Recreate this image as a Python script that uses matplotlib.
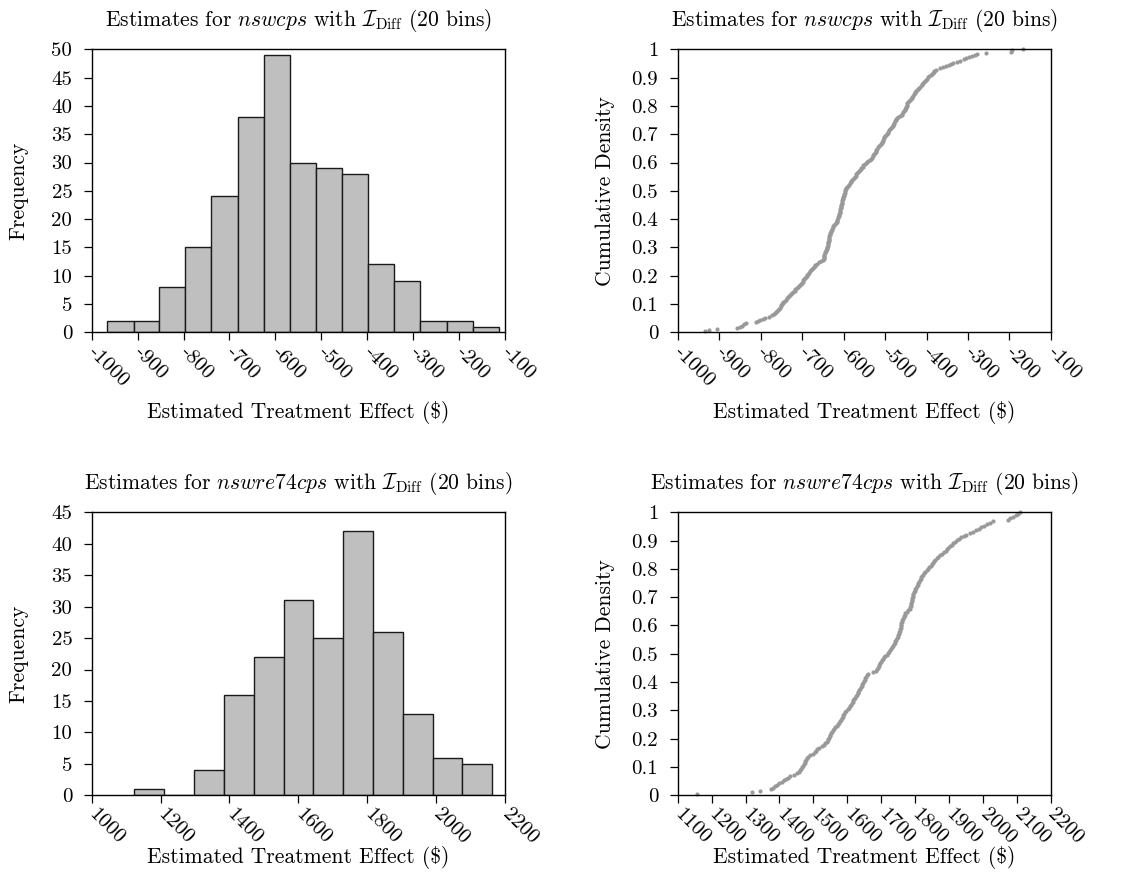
import numpy as np
import matplotlib
matplotlib.use("Agg")
import matplotlib.pyplot as plt
from matplotlib.ticker import FuncFormatter

# Computer Modern look for text and math
plt.rcParams['font.family'] = 'serif'
plt.rcParams['font.serif'] = ['cmr10']
plt.rcParams['mathtext.fontset'] = 'cm'
plt.rcParams['axes.unicode_minus'] = False

# nswcps: histogram bins (edges) and counts
nswcps_edges = [-965.9, -908.6, -852.7, -796.1, -739.4, -682.1, -625.5, -568.2,
                -511.5, -454.2, -397.6, -341.0, -284.4, -227.0, -170.4, -113.8]
nswcps_counts = [2, 2, 8, 15, 24, 38, 49, 30, 29, 28, 12, 9, 2, 2, 1]

# nswre74cps: histogram bins (edges) and counts
nswre74cps_edges = [1123.9, 1211.0, 1298.0, 1384.0, 1470.0, 1557.0, 1643.5,
                    1730.6, 1817.0, 1903.0, 1990.0, 2076.0, 2163.0]
nswre74cps_counts = [1, 0, 4, 16, 22, 31, 25, 42, 26, 13, 6, 5]

# sorted treatment effect estimates behind the cumulative plots
nswcps_estimates = [
    -934, -924, -906, -858, -850, -845, -840, -835, -810, -806,
    -801, -795, -790, -781, -773, -768, -765, -762, -760, -758,
    -756, -754, -752, -750, -748, -746.5, -745, -742, -739, -736,
    -733, -731, -729, -726, -724, -721, -718, -716, -713, -710,
    -708, -705, -703, -701, -699, -697, -695, -693, -691, -689,
    -687, -685, -683, -681, -679, -677, -674, -672, -670, -668,
    -665, -660, -655, -650, -648, -647.5, -647, -646.5, -646, -645,
    -644, -643, -642, -641, -640, -639, -638.5, -638, -637, -636.5,
    -636, -635.5, -635, -634.5, -634, -633.5, -633, -632, -631, -630,
    -628, -627, -626, -625, -623, -621, -619, -617, -616, -615,
    -614, -613, -612, -611, -610, -609, -608.5, -608, -607.5, -607,
    -606.5, -606, -605.5, -605, -604.5, -604, -603, -602.5, -602, -601,
    -600, -599, -598, -597, -596, -595.5, -595, -594, -592, -590,
    -588, -585, -583, -581, -579, -577, -575, -573, -571, -569,
    -567, -565, -563, -561, -559, -557, -554, -552, -549, -546,
    -543, -540, -537, -534, -532, -530, -528, -526, -524, -523,
    -522, -521, -520, -518, -515, -512, -510, -508, -507, -505.5,
    -504, -503, -501.5, -500, -498, -496, -494, -492, -490, -488,
    -486, -484, -482, -480, -479, -477.5, -476, -474.5, -473, -472,
    -468, -464, -460, -458, -456, -454, -452, -451, -450, -449,
    -448, -447, -446, -444, -442, -440, -438, -436, -434, -432,
    -430, -428.5, -427, -425.5, -424, -421, -418, -415, -412, -410,
    -408, -406, -404, -402, -399, -396, -393, -390, -387, -385,
    -383, -381, -376, -368, -360, -352, -347, -341, -335, -327,
    -319, -310, -304, -297, -291, -284, -278, -256, -196, -193,
    -167,
]

nswre74cps_estimates = [
    1158, 1320, 1343, 1375, 1382, 1387, 1394, 1400, 1406, 1412,
    1419, 1424, 1430, 1444, 1452, 1457, 1460, 1464, 1467, 1470,
    1472, 1474, 1476, 1479, 1482, 1485, 1491, 1498, 1504, 1508,
    1512, 1517, 1524, 1530, 1535, 1539, 1542, 1544, 1546, 1548,
    1550, 1553, 1556, 1559, 1562, 1565, 1569, 1572, 1575, 1578,
    1580, 1583, 1586, 1588, 1591, 1594, 1597, 1601, 1606, 1609,
    1611, 1613, 1616, 1618, 1620, 1623, 1625, 1628, 1630, 1632,
    1635, 1637, 1640, 1642, 1644, 1646, 1648, 1651, 1653, 1656,
    1659, 1662, 1675, 1684, 1687, 1690, 1692, 1694, 1697, 1700,
    1703, 1706, 1709, 1712, 1716, 1720, 1723, 1726, 1729, 1732,
    1735, 1737, 1739, 1741, 1744, 1746, 1748, 1749, 1751, 1753,
    1755, 1756, 1757, 1757.5, 1758, 1759, 1760, 1762, 1764, 1766,
    1768, 1769, 1771, 1775, 1780, 1784, 1786, 1787, 1788, 1789,
    1790, 1791, 1792, 1793, 1793.5, 1794, 1796, 1798, 1800, 1803,
    1805, 1807, 1809, 1811, 1814, 1816, 1818, 1820, 1822, 1825,
    1830, 1834, 1838, 1842, 1846, 1849, 1852, 1855, 1858, 1863,
    1867, 1873, 1880, 1886, 1890, 1894, 1898, 1903, 1907, 1911,
    1917, 1923, 1929, 1936, 1943, 1951, 1960, 1969, 1978, 1987,
    1995, 2003, 2011, 2020, 2030, 2072, 2080, 2089, 2096, 2103,
    2110,
]

title_nswcps = r'Estimates for $\mathit{nswcps}$ with $\mathcal{I}_{\mathrm{Diff}}$ (20 bins)'
title_nswre74cps = r'Estimates for $\mathit{nswre74cps}$ with $\mathcal{I}_{\mathrm{Diff}}$ (20 bins)'
x_label = r'Estimated Treatment Effect (\$)'

LABEL_SIZE = 15.5
TICK_SIZE = 15

fig = plt.figure(figsize=(11.38, 8.9), dpi=100)

# axes placed by hand: [left, bottom, width, height]
ax_hist_top = fig.add_axes([0.0806, 0.6266, 0.3632, 0.318])
ax_cdf_top = fig.add_axes([0.5955, 0.6266, 0.3280, 0.318])
ax_hist_bot = fig.add_axes([0.0806, 0.1064, 0.3632, 0.318])
ax_cdf_bot = fig.add_axes([0.5955, 0.1064, 0.3280, 0.318])

plain = FuncFormatter(lambda v, pos: f'{v:g}')


def style_axes(ax, xticks, yticks, xlabel_y):
    ax.set_xticks(xticks)
    ax.set_yticks(yticks)
    ax.xaxis.set_major_formatter(plain)
    ax.yaxis.set_major_formatter(plain)
    ax.tick_params(direction='out', length=6, width=0.9, labelsize=TICK_SIZE,
                   top=False, right=False)
    ax.tick_params(axis='x', pad=6)
    ax.tick_params(axis='y', pad=8)
    for lbl in ax.get_xticklabels():
        lbl.set_rotation(-45)
        lbl.set_ha('left')
        lbl.set_va('center')
        lbl.set_rotation_mode('anchor')
    for sp in ax.spines.values():
        sp.set_linewidth(1.0)
    ax.set_xlabel(x_label, fontsize=LABEL_SIZE, va='center')
    ax.xaxis.set_label_coords(0.5, xlabel_y)


def draw_hist(ax, edges, counts, title, xlim, ylim, xticks, yticks, xlabel_y):
    # one weighted sample per bin so the bars come straight from the counts
    ax.hist(edges[:-1], bins=edges, weights=counts, color='#bfbfbf',
            edgecolor='#1a1a1a', linewidth=1.0)
    ax.set_xlim(*xlim)
    ax.set_ylim(*ylim)
    style_axes(ax, xticks, yticks, xlabel_y)
    ax.set_ylabel('Frequency', fontsize=LABEL_SIZE, va='center')
    ax.yaxis.set_label_coords(-0.178, 0.5)
    ax.set_title(title, fontsize=LABEL_SIZE, pad=17)


def draw_cdf(ax, estimates, title, xlim, xticks, xlabel_y):
    values = np.sort(np.asarray(estimates, dtype=float))
    density = np.arange(1, len(values) + 1) / len(values)
    ax.plot(values, density, linestyle='none', marker='o', markersize=3.0,
            markeredgewidth=0, color='#999999', clip_on=False)
    ax.set_xlim(*xlim)
    ax.set_ylim(0, 1)
    style_axes(ax, xticks, np.arange(0, 1.01, 0.1), xlabel_y)
    ax.set_ylabel('Cumulative Density', fontsize=LABEL_SIZE, va='center')
    ax.yaxis.set_label_coords(-0.195, 0.5)
    ax.set_title(title, fontsize=LABEL_SIZE, pad=17)


draw_hist(ax_hist_top, nswcps_edges, nswcps_counts, title_nswcps,
          (-1000, -100), (0, 50), np.arange(-1000, -99, 100), np.arange(0, 51, 5), -0.282)
draw_cdf(ax_cdf_top, nswcps_estimates, title_nswcps,
         (-1000, -100), np.arange(-1000, -99, 100), -0.282)

draw_hist(ax_hist_bot, nswre74cps_edges, nswre74cps_counts, title_nswre74cps,
          (1000, 2200), (0, 45), np.arange(1000, 2201, 200), np.arange(0, 46, 5), -0.218)
draw_cdf(ax_cdf_bot, nswre74cps_estimates, title_nswre74cps,
         (1100, 2200), np.arange(1100, 2201, 100), -0.218)

fig.savefig('out.png', dpi=100)
